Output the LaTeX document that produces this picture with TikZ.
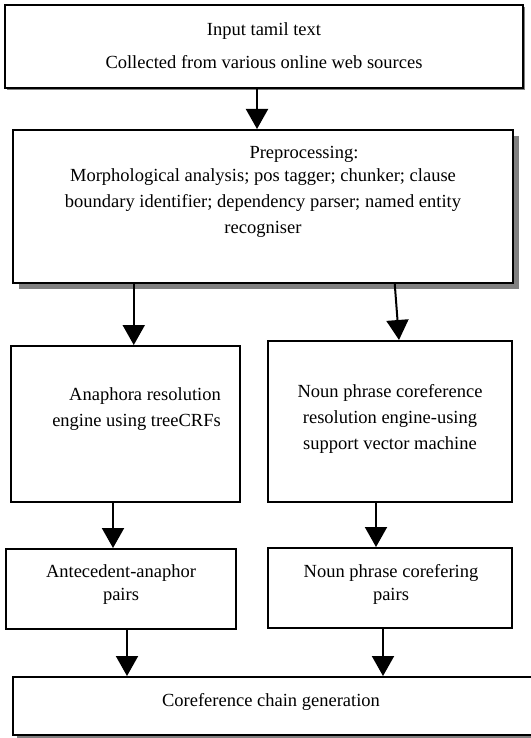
\documentclass[tikz,border=0pt]{standalone}
\usepackage{fontspec}
\setmainfont{Liberation Serif}
\usetikzlibrary{arrows.meta,shadows,positioning}
\tikzset{
	box/.style = {draw=black, line width=2pt, inner sep=0pt, fill=white},
	shadowbox/.style = {box, drop shadow={shadow xshift=#1, shadow yshift=-#1, fill=gray, opacity=1}},
	txt/.style = {align=center, inner sep=0pt, anchor=north, font=\fontsize{18.5}{26}\selectfont},
	arr/.style = {line width=2pt, -{Triangle[width=22pt,length=20pt]}}
}

\begin{document}
\begin{tikzpicture}[x=1pt, y=-1pt]
	\useasboundingbox (0,0) rectangle (530,738);
	\node [shadowbox=2pt, minimum width=518pt, minimum height=83pt] (input) at (264,46.5) {};
	\node [shadowbox=6pt, minimum width=500pt, minimum height=153pt] (pre) at (262.75,206.5) {};
	\node [box, minimum width=229pt, minimum height=156pt] (ana) at (125.5,424) {};
	\node [box, minimum width=244pt, minimum height=161pt] (npc) at (390,421.5) {};
	\node [box, minimum width=230pt, minimum height=80pt] (pairA) at (121,589) {};
	\node [box, minimum width=244pt, minimum height=80pt] (pairN) at (390,588) {};
	\node [shadowbox=4pt, minimum width=519pt, minimum height=58pt] (chain) at (272.5,706) {};

	\node [txt] (inputtxt) at (264,22.4) {Input tamil text\\[7pt]Collected from various online web sources};
	\node [txt] (pretxt) at (263,146.5) {\hspace*{82pt}Preprocessing:\\[-3pt]Morphological analysis; pos tagger; chunker; clause\\boundary identifier; dependency parser; named entity\\recogniser};
	\node [txt, align=right, anchor=north east] (anatxt) at (221,387.4) {Anaphora resolution\\engine using treeCRFs};
	\node [txt] (npctxt) at (390,384.4) {Noun phrase coreference\\resolution engine-using\\support vector machine};
	\node [txt] (pairAtxt) at (121,564.4) {Antecedent-anaphor\\[-3pt]pairs};
	\node [txt] (pairNtxt) at (391,564.4) {Noun phrase corefering\\[-3pt]pairs};
	\node [txt] (chaintxt) at (271,693.4) {Coreference chain generation};

	\draw [arr] ([xshift=-7pt]input.south) -- ([xshift=-7pt]input.south |- pre.north);
	\draw [arr] ([xshift=-129pt]pre.south) -- ([xshift=-129pt]pre.south |- ana.north);
	\draw [arr] ([xshift=132pt]pre.south) -- ([xshift=9pt]npc.north);
	\draw [arr] ([xshift=-12.5pt]ana.south) -- ([xshift=-12.5pt]ana.south |- pairA.north);
	\draw [arr] ([xshift=-14pt]npc.south) -- ([xshift=-14pt]npc.south |- pairN.north);
	\draw [arr] ([xshift=6pt]pairA.south) -- ([xshift=6pt]pairA.south |- chain.north);
	\draw [arr] ([xshift=-7pt]pairN.south) -- ([xshift=-7pt]pairN.south |- chain.north);
\end{tikzpicture}
\end{document}
